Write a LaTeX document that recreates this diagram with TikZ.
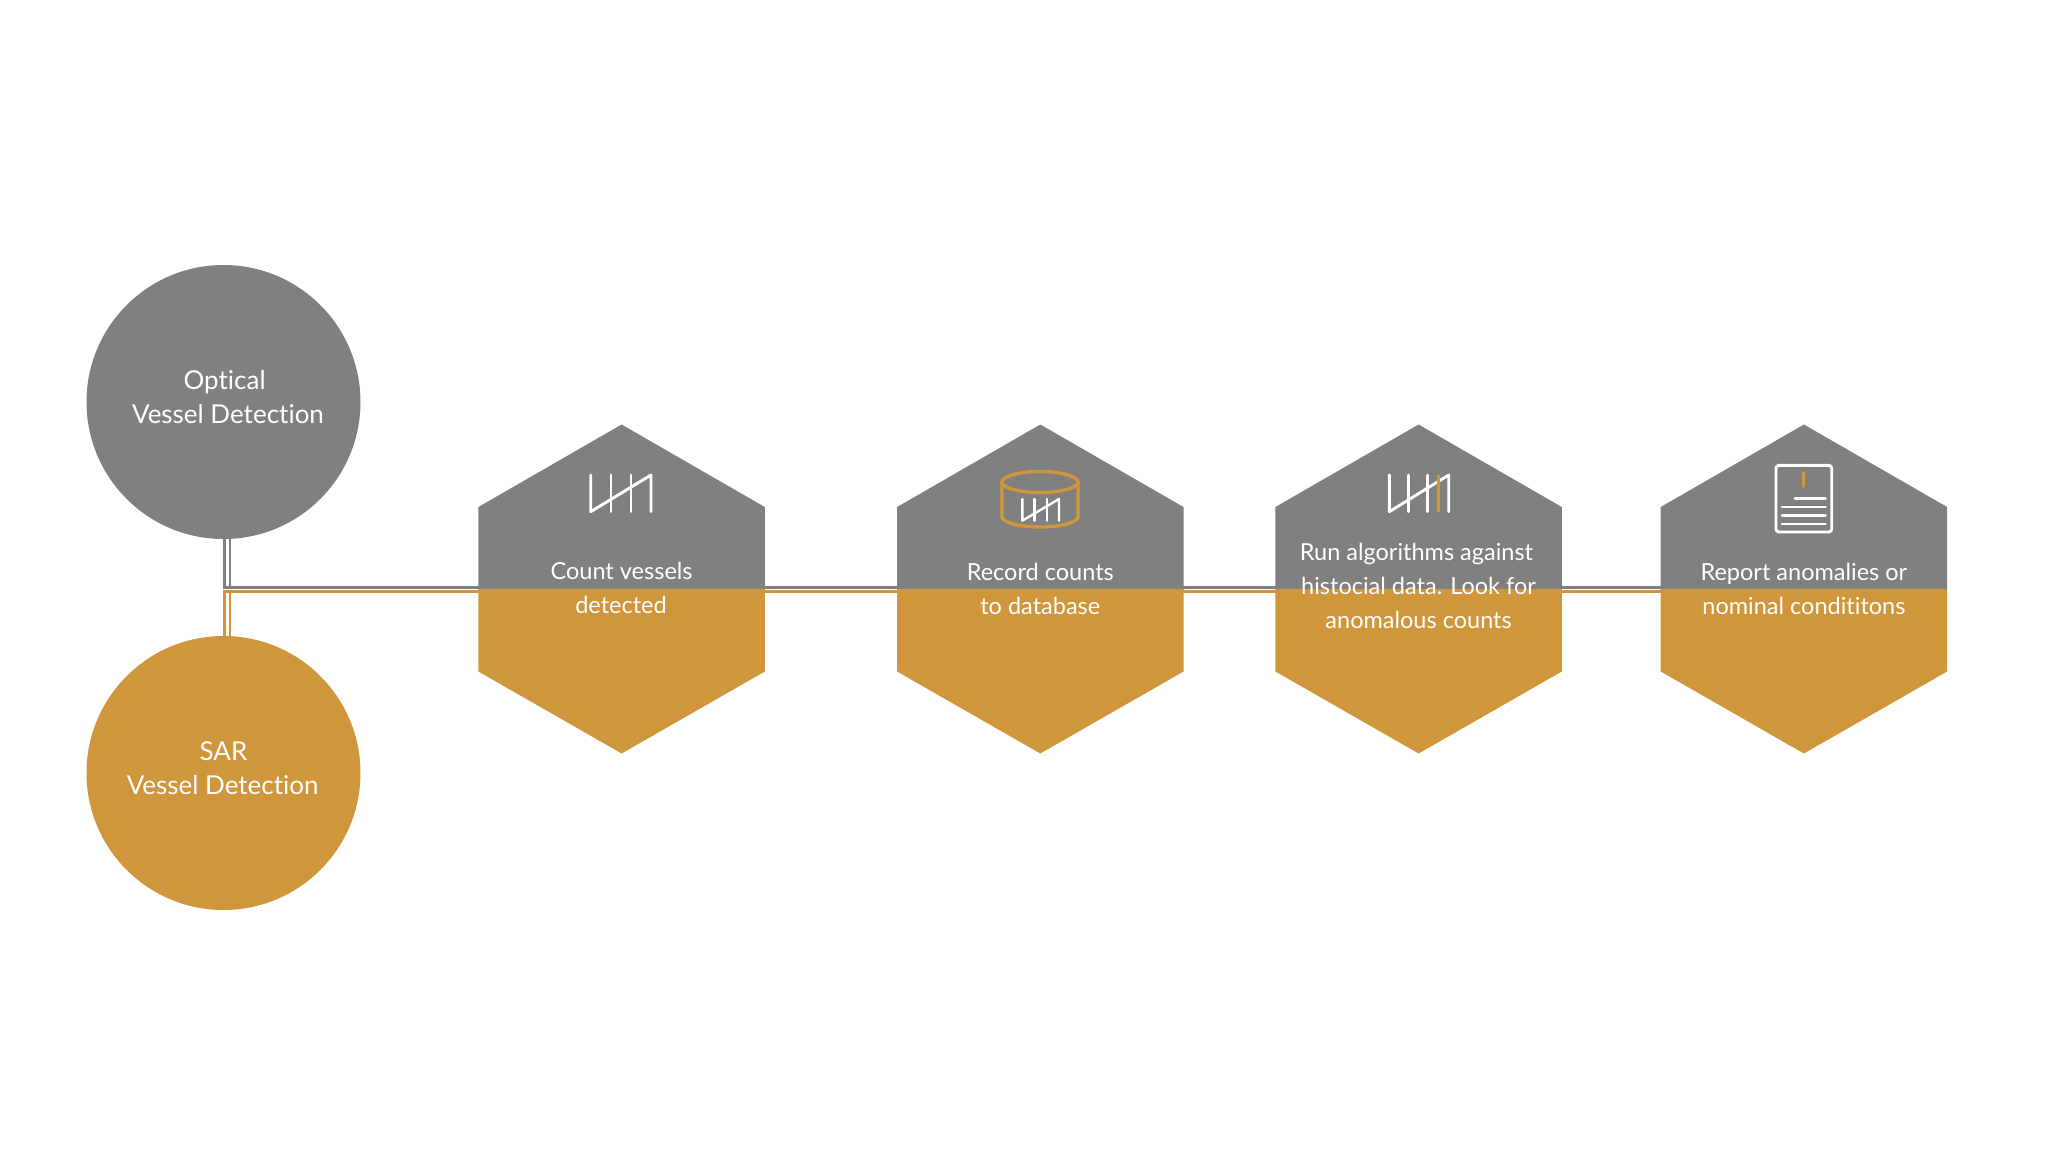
\documentclass[tikz,border=0pt]{standalone}
\usepackage{fontspec}
\setmainfont{Lato}[Ligatures=NoCommon]
\definecolor{ggray}{HTML}{808080}
\definecolor{gold}{HTML}{CF963B}
\tikzset{
  x=1pt,y=-1pt,
  lbl/.style={anchor=base,text=white,inner sep=0pt,font=\fontsize{23.5}{34}\selectfont},
  bigl/.style={lbl,font=\fontsize{26}{34}\selectfont},
  grayline/.style={draw=ggray,line width=2.6pt},
  goldline/.style={draw=gold,line width=2.6pt},
  icon/.style={draw=white,line width=2.9pt,line cap=round,line join=round},
  iconG/.style={draw=gold,line width=3.4pt,line cap=round,line join=round},
  disc/.style={circle,minimum size=274pt,inner sep=0pt,draw=none},
}
\newcommand{\hexagonAt}[1]{%
  \fill[ggray] (#1+143.2,589.5) -- (#1+143.2,507) -- (#1,424.5) -- (#1-143.2,507) -- (#1-143.2,589.5) -- cycle;
  \fill[gold] (#1+143.2,589) -- (#1+143.2,671.5) -- (#1,753.5) -- (#1-143.2,671.5) -- (#1-143.2,589) -- cycle;
}
\begin{document}
\begin{tikzpicture}
\useasboundingbox (0,0) rectangle (2048,1152);
% connectors
\coordinate (gt1) at (224.7,539); \coordinate (gc1) at (224.7,587.5);
\coordinate (gt2) at (229.8,539); \coordinate (gc2) at (229.8,587.5);
\coordinate (gr) at (1700,587.3);
\coordinate (ot1) at (224.7,636); \coordinate (oc1) at (224.7,591);
\coordinate (ot2) at (229.8,636); \coordinate (oc2) at (229.8,591);
\coordinate (or) at (1700,591.2);
\draw[grayline] (gt1) -- (gc1);
\draw[grayline] (gt2) -- (gc2);
\draw[draw=ggray,line width=2.6pt] (223.4,587.3) -- (gr);
\draw[goldline] (ot1) -- (oc1);
\draw[goldline] (ot2) -- (oc2);
\draw[draw=gold,line width=2.6pt] (223.4,591.2) -- (or);
% circles
\node[disc,fill=ggray] (optical) at (223.5,402) {};
\node[disc,fill=gold] (sar) at (223.5,773) {};
\node[bigl] (t1a) at (224.6,389.3) {Optical};
\node[bigl] (t1b) at (228,423.3) {Vessel Detection};
\node[bigl] (t2a) at (223.5,760.3) {SAR};
\node[bigl] (t2b) at (222.7,794.3) {Vessel Detection};
% hexagons
\hexagonAt{621.6}
\hexagonAt{1040.3}
\hexagonAt{1418.6}
\hexagonAt{1803.9}
% icon 1
\draw[icon] (590.7,475) -- (590.7,511.7) -- (651,475) -- (651,511.7);
\draw[icon] (611,475) -- (611,511.7);
\draw[icon] (631,475) -- (631,511.7);
% icon 2
\draw[iconG] (1040,482) ellipse[x radius=38,y radius=10.5];
\draw[iconG] (1002,482) -- (1002,516.5) arc[start angle=180,end angle=360,x radius=38,y radius=-10.5] -- (1078,482);
\begin{scope}[line width=2.4pt]
\draw[draw=white,line cap=round,line join=round] (1022.3,499) -- (1022.3,520.7) -- (1059,499) -- (1059,520.7);
\draw[draw=white,line cap=round] (1034.5,499) -- (1034.5,520.7);
\draw[draw=white,line cap=round] (1046.7,499) -- (1046.7,520.7);
\end{scope}
% icon 3
\draw[icon] (1389.3,475) -- (1389.3,511.7) -- (1448.7,475) -- (1448.7,511.7);
\draw[icon] (1408.5,475) -- (1408.5,511.7);
\draw[icon] (1427.7,475) -- (1427.7,511.7);
\draw[draw=gold,line width=3.4pt] (1438.7,475) -- (1438.7,511.7);
% icon 4
\draw[icon,rounded corners=3pt] (1776,465.3) rectangle (1831.7,532);
\draw[draw=gold,line width=3.8pt,line cap=round] (1803.5,473) -- (1803.5,486);
\draw[icon] (1795,498.3) -- (1825.5,498.3);
\draw[icon] (1782,507) -- (1825.5,507);
\draw[icon] (1782,515.4) -- (1825.5,515.4);
\draw[icon] (1782,524) -- (1825.5,524);
% hex labels
\node[lbl] (h1a) at (621.6,579) {Count vessels};
\node[lbl] (h1b) at (621,613) {detected};
\node[lbl] (h2a) at (1040.3,580) {Record counts};
\node[lbl] (h2b) at (1040.3,614) {to database};
\node[lbl] (h3a) at (1416.5,560.5) {Run algorithms against};
\node[lbl] (h3b) at (1418.5,594.5) {histocial data. Look for};
\node[lbl] (h3c) at (1418.6,628.5) {anomalous counts};
\node[lbl] (h4a) at (1803.9,580) {Report anomalies or};
\node[lbl] (h4b) at (1803.9,614) {nominal condititons};
\end{tikzpicture}
\end{document}
